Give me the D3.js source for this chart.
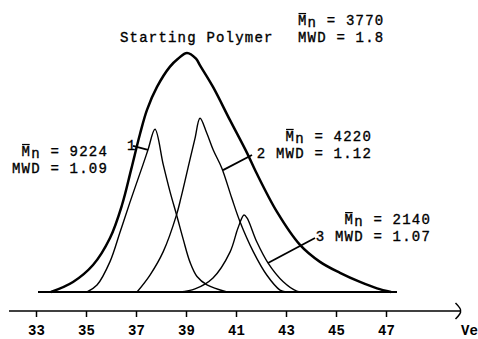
<!DOCTYPE html>
<html>
<head>
<meta charset="utf-8">
<script src="https://cdn.jsdelivr.net/npm/d3@7"></script>
<style>
  html, body { margin: 0; padding: 0; background: #fff; }
  svg { display: block; }
  text { font-family: "Liberation Mono", "DejaVu Sans Mono", monospace; fill: #000; }
</style>
</head>
<body>
<svg id="chart" width="478" height="339"></svg>
<script>
// ---- data (elution volume Ve vs detector response, arbitrary units) ----
const tickValues = [33, 35, 37, 39, 41, 43, 45, 47];
const axisLabel = "Ve";

const startingVe = [33.6, 34.48, 35.28, 35.96, 36.44, 36.80, 37.16, 37.44, 37.84, 38.36, 38.68, 39.04,
                    39.40, 39.56, 40.08, 40.76, 41.44, 41.80, 42.64, 43.56, 44.36, 45.16, 45.96, 46.64, 47.2];
const startingH  = [0, 4.2, 11.3, 22.6, 36.4, 51.0, 66.1, 76.2, 85.8, 94.3, 97.6, 100,
                    97.6, 94.8, 85.8, 71.9, 58.2, 50.2, 33.5, 19.7, 12.6, 8.0, 4.2, 1.5, 0];

const frac1Ve = [35.04, 35.44, 35.96, 36.36, 36.76, 37.28, 37.48, 37.76, 38.09, 38.36, 38.63, 38.89, 39.16, 39.44, 39.84, 40.64];
const frac1H  = [0, 2.9, 12.7, 25.0, 37.6, 53.3, 59.5, 68.1, 53.3, 42.0, 32.0, 22.0, 12.5, 6.5, 3.0, 0];

const frac2Ve = [37.04, 37.56, 38.09, 38.63, 38.80, 38.96, 39.16, 39.36, 39.56, 39.83, 40.09, 40.43, 40.83, 41.16, 41.69, 42.23, 42.76, 43.0];
const frac2H  = [0, 7.1, 16.9, 32.6, 39.5, 46.5, 55.5, 64.3, 72.7, 66.5, 59.4, 51.9, 39.3, 29.4, 16.9, 7.1, 0.8, 0];

const frac3Ve = [38.76, 39.36, 40.08, 40.76, 41.08, 41.32, 41.44, 41.83, 42.29, 42.89, 43.43, 43.76];
const frac3H  = [0, 1.3, 5.9, 16.7, 26.8, 32.2, 31.0, 21.0, 12.0, 4.3, 0.4, 0];

const baselineRange = [33.08, 47.44];
const axisRange = [31.92, 49.98];

const startLabel = "Starting Polymer";
const mnLabels  = ["3770", "9224", "4220", "2140"];
const mwdLabels = ["MWD = 1.8", "MWD = 1.09", "2 MWD = 1.12", "3 MWD = 1.07"];

// ---- chart ----
const svg = d3.select("#chart");
const x = d3.scaleLinear().domain([33, 47]).range([36, 386]);
const y = d3.scaleLinear().domain([0, 100]).range([292, 53]);

const line = d3.line().x(d => x(d[0])).y(d => y(d[1])).curve(d3.curveCatmullRom.alpha(0.5));
const zip = (a, b) => a.map((v, i) => [v, b[i]]);

// baseline
svg.append("line")
  .attr("x1", x(baselineRange[0])).attr("x2", x(baselineRange[1]))
  .attr("y1", y(0)).attr("y2", y(0))
  .attr("stroke", "#000").attr("stroke-width", 2);

// fractions
[[frac1Ve, frac1H], [frac2Ve, frac2H], [frac3Ve, frac3H]].forEach(([v, h]) => {
  svg.append("path").attr("d", line(zip(v, h)))
    .attr("fill", "none").attr("stroke", "#000").attr("stroke-width", 1.4)
    .attr("stroke-linejoin", "round");
});
// starting polymer
svg.append("path").attr("d", line(zip(startingVe, startingH)))
  .attr("fill", "none").attr("stroke", "#000").attr("stroke-width", 2.5)
  .attr("stroke-linejoin", "round");

// axis
const axisY = 311;
const axisG = svg.append("g").attr("transform", `translate(0,${axisY})`);
axisG.call(d3.axisBottom(x).tickValues(tickValues).tickSize(6).tickPadding(8).tickFormat(d3.format("d")));
axisG.select(".domain").remove();
axisG.selectAll(".tick line").attr("stroke", "#000").attr("stroke-width", 1.5);
axisG.selectAll(".tick text")
  .attr("font-family", "Liberation Mono").attr("font-size", 14).attr("font-weight", "bold");
const ax0 = x(axisRange[0]), ax1 = x(axisRange[1]);
svg.append("line").attr("x1", ax0).attr("x2", ax1).attr("y1", axisY).attr("y2", axisY)
  .attr("stroke", "#000").attr("stroke-width", 1.5);
svg.append("path")
  .attr("d", `M${ax1 - 5},${axisY - 8} Q${ax1 + 1},${axisY - 2} ${ax1},${axisY} Q${ax1 + 1},${axisY + 2} ${ax1 - 5},${axisY + 8}`)
  .attr("fill", "none").attr("stroke", "#000").attr("stroke-width", 1.5);
svg.append("text").attr("x", ax1 + 0.5).attr("y", 335)
  .attr("font-size", 14).attr("font-weight", "bold").text(axisLabel);

// annotations
const fs = 14, ls = 1.2;
function styleText(t, anchor) {
  t.attr("font-size", fs).attr("letter-spacing", ls).attr("text-anchor", anchor)
    .attr("stroke", "#000").attr("stroke-width", 0.35);
}
function mnText(xv, yv, value, anchor) {
  const t = svg.append("text").attr("x", x(xv)).attr("y", y(yv));
  styleText(t, anchor);
  t.append("tspan").text("M");
  t.append("tspan").attr("dy", 2).text("n");
  t.append("tspan").attr("dy", -2).text(" = " + value);
  const n = t.node();
  const s = n.getStartPositionOfChar(0), e = n.getEndPositionOfChar(0);
  svg.append("line").attr("x1", s.x + 0.5).attr("x2", e.x - 1.5)
    .attr("y1", y(yv) - 11.5).attr("y2", y(yv) - 11.5)
    .attr("stroke", "#000").attr("stroke-width", 1.2);
}
function plainText(xv, yv, str, anchor) {
  const t = svg.append("text").attr("x", x(xv)).attr("y", y(yv)).text(str);
  styleText(t, anchor);
}
function leader(a, b) {
  svg.append("line").attr("x1", x(a[0])).attr("y1", y(a[1])).attr("x2", x(b[0])).attr("y2", y(b[1]))
    .attr("stroke", "#000").attr("stroke-width", 1.8);
}

plainText(36.36, 104.6, startLabel, "start");
mnText(43.48, 111.7, mnLabels[0], "start");
plainText(43.48, 104.6, mwdLabels[0], "start");

mnText(35.88, 56.9, mnLabels[1], "end");
plainText(35.88, 49.8, mwdLabels[1], "end");
plainText(36.64, 59.4, "1", "start");
leader([36.88, 61.1], [37.48, 59.5]);

mnText(46.44, 63.2, mnLabels[2], "end");
plainText(46.44, 56.1, mwdLabels[2], "end");
leader([41.64, 57.3], [40.48, 51.0]);

mnText(48.8, 28.4, mnLabels[3], "end");
plainText(48.8, 21.3, mwdLabels[3], "end");
leader([44.16, 22.6], [42.28, 12.1]);
</script>
</body>
</html>
